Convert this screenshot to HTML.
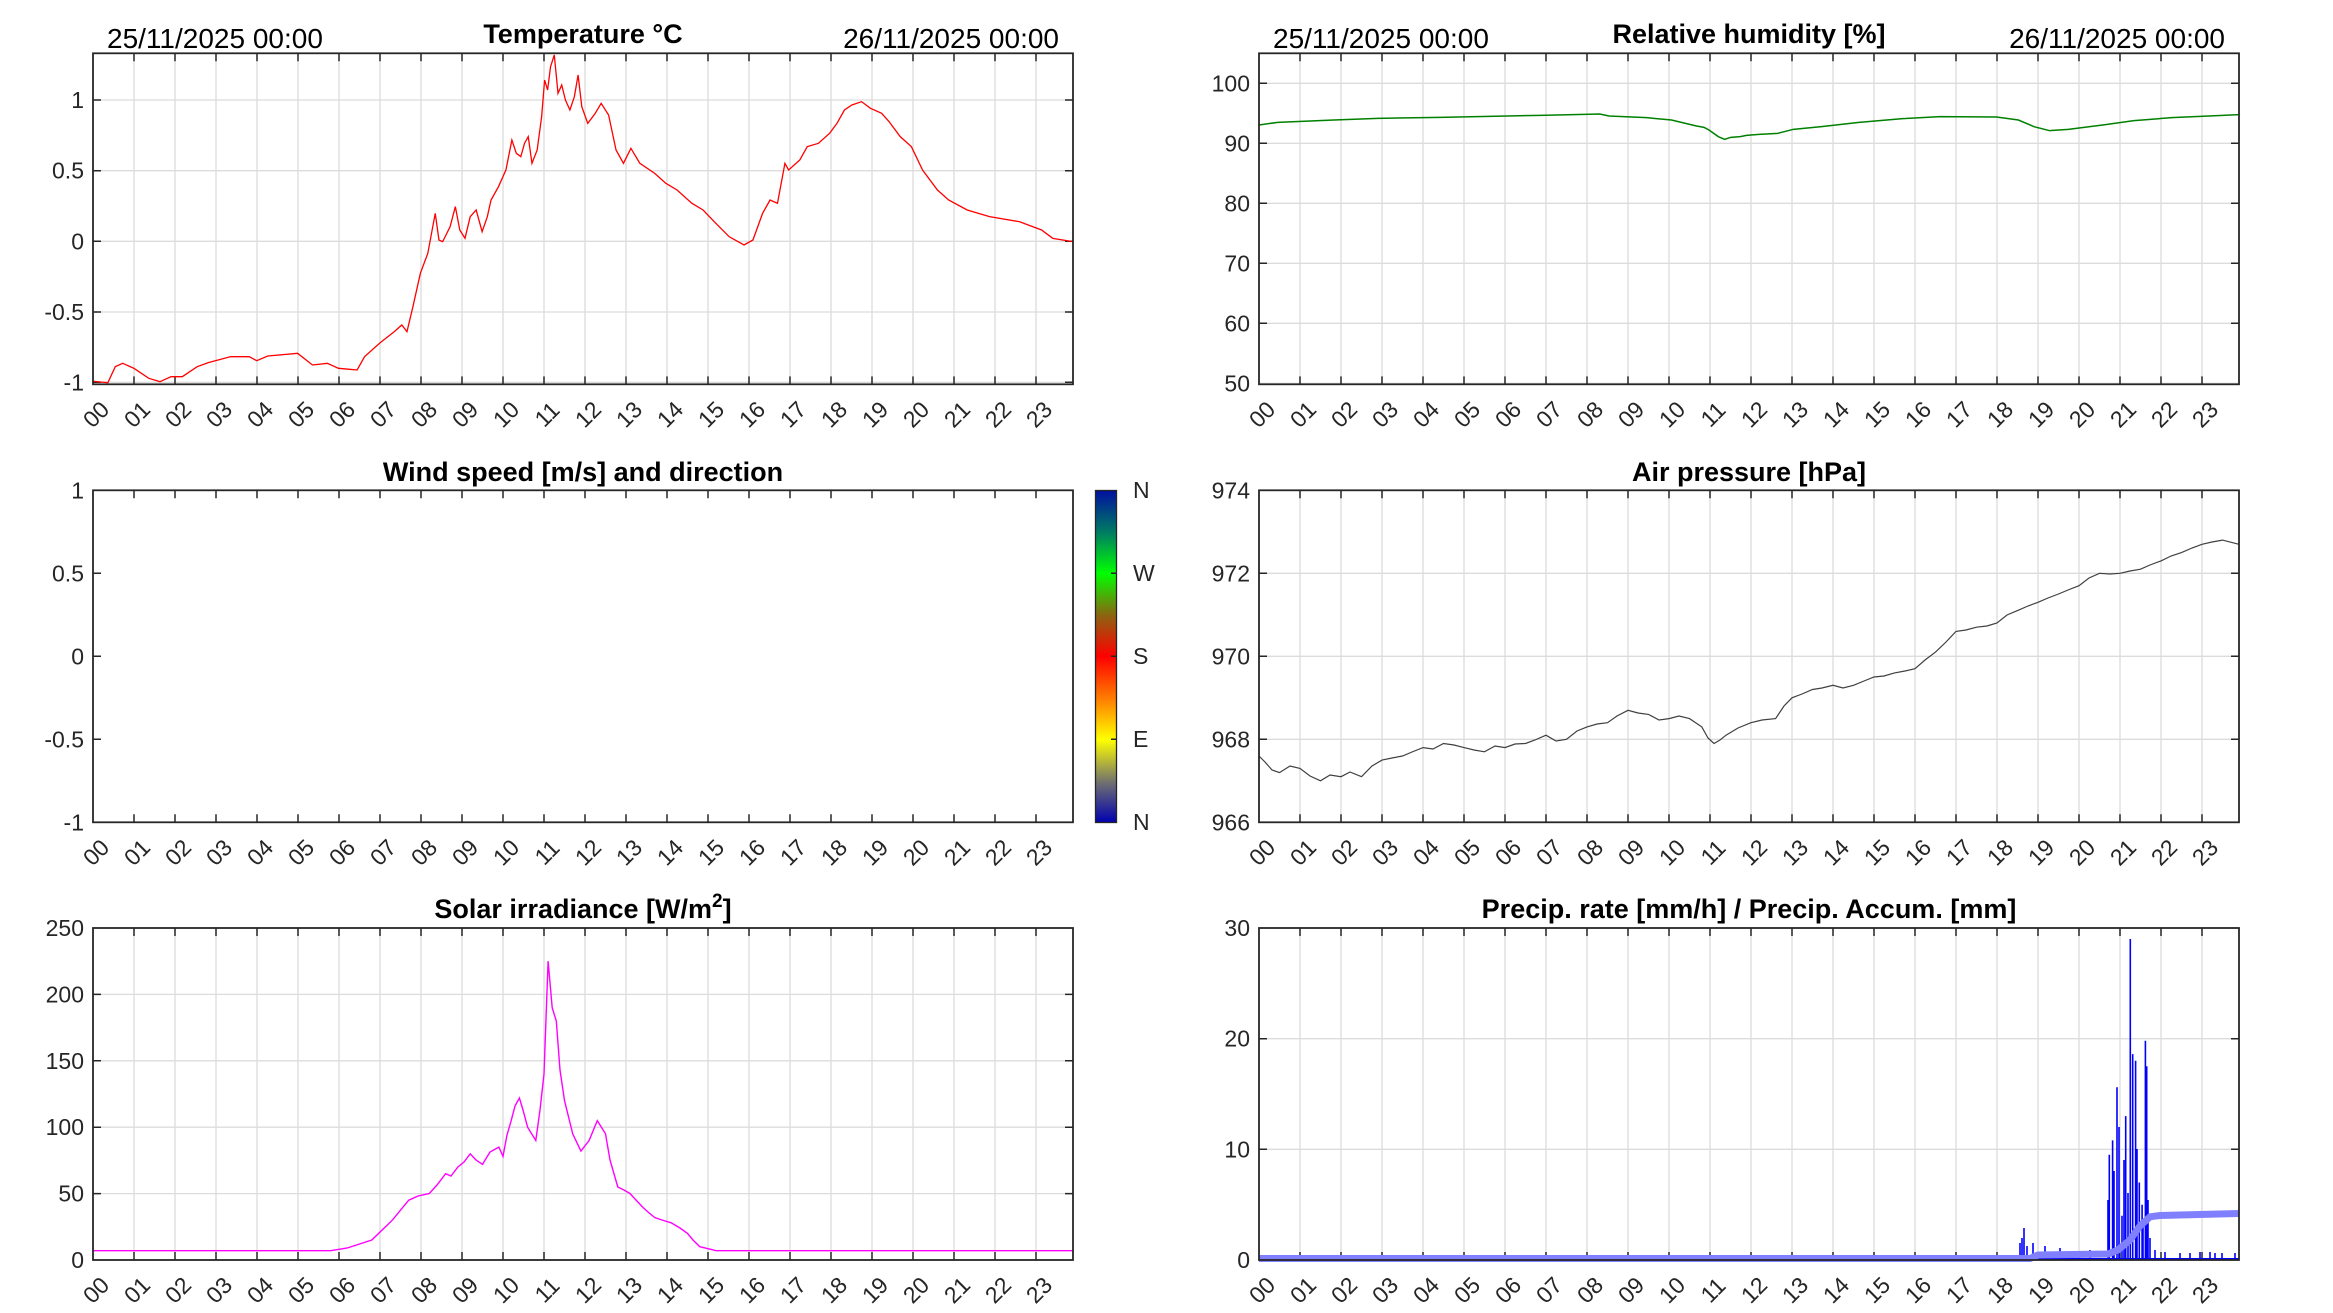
<!DOCTYPE html>
<html><head><meta charset="utf-8"><style>
html,body{margin:0;padding:0;background:#fff;}
svg{display:block;font-family:"Liberation Sans",Arial,sans-serif;}
.tl{font-size:23px;fill:#262626;}
.yl{font-size:23px;fill:#262626;text-anchor:end;dominant-baseline:central;}
.xl text{font-size:23px;fill:#262626;text-anchor:middle;dominant-baseline:central;}
.ti{font-size:27px;font-weight:bold;fill:#000;text-anchor:middle;}
.dt{font-size:28px;fill:#000;}
.grid{stroke:#dcdcdc;stroke-width:1.3;fill:none;}
.tk{stroke:#262626;stroke-width:1.5;fill:none;}
.ax{stroke:#262626;stroke-width:1.8;fill:none;}
</style></head><body>
<svg width="2333" height="1313" viewBox="0 0 2333 1313" xmlns="http://www.w3.org/2000/svg">
<defs>
<path id="vg" d="M41 0V332M82 0V332M123 0V332M164 0V332M205 0V332M246 0V332M287 0V332M328 0V332M369 0V332M410 0V332M451 0V332M492 0V332M533 0V332M574 0V332M615 0V332M656 0V332M697 0V332M738 0V332M779 0V332M820 0V332M861 0V332M902 0V332M943 0V332"/>
<path id="vt" d="M41 0v8M82 0v8M123 0v8M164 0v8M205 0v8M246 0v8M287 0v8M328 0v8M369 0v8M410 0v8M451 0v8M492 0v8M533 0v8M574 0v8M615 0v8M656 0v8M697 0v8M738 0v8M779 0v8M820 0v8M861 0v8M902 0v8M943 0v8M41 332v-8M82 332v-8M123 332v-8M164 332v-8M205 332v-8M246 332v-8M287 332v-8M328 332v-8M369 332v-8M410 332v-8M451 332v-8M492 332v-8M533 332v-8M574 332v-8M615 332v-8M656 332v-8M697 332v-8M738 332v-8M779 332v-8M820 332v-8M861 332v-8M902 332v-8M943 332v-8"/>
<linearGradient id="cb" x1="0" y1="1" x2="0" y2="0">
<stop offset="0" stop-color="#0000b0"/>
<stop offset="0.12" stop-color="#707070"/>
<stop offset="0.25" stop-color="#ffff00"/>
<stop offset="0.37" stop-color="#ff8000"/>
<stop offset="0.5" stop-color="#ff0000"/>
<stop offset="0.62" stop-color="#906010"/>
<stop offset="0.75" stop-color="#00ff00"/>
<stop offset="0.87" stop-color="#008060"/>
<stop offset="1" stop-color="#0010a0"/>
</linearGradient>
</defs>

<!-- ========== Temperature ========== -->
<g transform="translate(93,53.3)">
<use href="#vg" class="grid" transform="scale(1,0.997)"/>
<path class="grid" d="M0 46.7H980M0 117.4H980M0 188H980M0 258.7H980M0 329H980"/>
<use href="#vt" class="tk" transform="scale(1,0.997)"/>
<path class="tk" d="M0 46.7h8M0 117.4h8M0 188h8M0 258.7h8M0 329h8M980 46.7h-8M980 117.4h-8M980 188h-8M980 258.7h-8M980 329h-8"/>
</g>
<path transform="scale(0.744,0.33333)" vector-effect="non-scaling-stroke" fill="none" stroke="#ff0000" stroke-width="1.3" d="M125 1144L135 1146L145 1148L155 1100L165 1090L180 1105L200 1135L215 1145L230 1130L245 1130L265 1100L280 1088L310 1070L335 1070L345 1082L360 1068L400 1060L420 1095L440 1090L455 1105L470 1108L480 1110L490 1070L510 1030L530 995L540 975L547 995L555 920L565 820L575 760L585 640L590 720L595 725L605 680L612 620L618 690L625 715L632 650L640 630L648 695L655 650L660 600L670 560L680 510L688 420L694 460L700 470L705 430L710 410L715 490L722 450L728 350L732 240L736 270L740 200L745 165L750 280L755 255L760 300L766 330L772 290L777 225L782 320L790 370L800 340L808 310L818 345L828 450L838 490L848 445L860 490L880 520L895 550L910 570L930 610L945 630L960 665L980 710L1000 735L1012 720L1025 640L1035 600L1045 610L1055 490L1060 510L1075 480L1085 440L1100 430L1115 400L1125 370L1135 330L1145 315L1158 305L1170 325L1185 340L1195 365L1210 410L1225 440L1240 510L1260 570L1275 600L1300 630L1330 650L1370 665L1400 690L1415 715L1442 725"/>
<rect class="ax" x="93" y="53.3" width="980" height="331"/>
<text class="yl" x="84" y="100">1</text>
<text class="yl" x="84" y="170.7">0.5</text>
<text class="yl" x="84" y="241.3">0</text>
<text class="yl" x="84" y="312">-0.5</text>
<text class="yl" x="84" y="382.3">-1</text>
<text class="ti" x="583" y="43">Temperature °C</text>
<text class="dt" x="107" y="48">25/11/2025 00:00</text>
<text class="dt" x="1059" y="48" text-anchor="end">26/11/2025 00:00</text>
<g class="xl" transform="translate(93,384.3)">
<text transform="translate(3,30)rotate(-45)">00</text><text transform="translate(44,30)rotate(-45)">01</text><text transform="translate(85,30)rotate(-45)">02</text><text transform="translate(126,30)rotate(-45)">03</text><text transform="translate(167,30)rotate(-45)">04</text><text transform="translate(208,30)rotate(-45)">05</text><text transform="translate(249,30)rotate(-45)">06</text><text transform="translate(290,30)rotate(-45)">07</text><text transform="translate(331,30)rotate(-45)">08</text><text transform="translate(372,30)rotate(-45)">09</text><text transform="translate(413,30)rotate(-45)">10</text><text transform="translate(454,30)rotate(-45)">11</text><text transform="translate(495,30)rotate(-45)">12</text><text transform="translate(536,30)rotate(-45)">13</text><text transform="translate(577,30)rotate(-45)">14</text><text transform="translate(618,30)rotate(-45)">15</text><text transform="translate(659,30)rotate(-45)">16</text><text transform="translate(700,30)rotate(-45)">17</text><text transform="translate(741,30)rotate(-45)">18</text><text transform="translate(782,30)rotate(-45)">19</text><text transform="translate(823,30)rotate(-45)">20</text><text transform="translate(864,30)rotate(-45)">21</text><text transform="translate(905,30)rotate(-45)">22</text><text transform="translate(946,30)rotate(-45)">23</text>
</g>

<!-- ========== Humidity ========== -->
<g transform="translate(1259,53.3)">
<use href="#vg" class="grid" transform="scale(1,0.997)"/>
<path class="grid" d="M0 30H980M0 90H980M0 150H980M0 210H980M0 270H980M0 330H980"/>
<use href="#vt" class="tk" transform="scale(1,0.997)"/>
<path class="tk" d="M0 30h8M0 90h8M0 150h8M0 210h8M0 270h8M980 30h-8M980 90h-8M980 150h-8M980 210h-8M980 270h-8"/>
</g>
<path transform="translate(1259,40) scale(0.625,0.33333)" vector-effect="non-scaling-stroke" fill="none" stroke="#008000" stroke-width="1.5" d="M0 255L30 247L120 240L190 235L290 232L450 226L520 223L545 222L560 228L620 233L660 240L700 258L712 262L720 270L735 290L745 298L755 292L770 290L780 286L800 283L830 280L855 268L900 260L960 247L1030 236L1090 230L1180 231L1215 240L1240 260L1265 272L1295 268L1350 255L1400 242L1460 233L1520 228L1568 224"/>
<rect class="ax" x="1259" y="53.3" width="980" height="331"/>
<text class="yl" x="1250" y="83.3">100</text>
<text class="yl" x="1250" y="143.3">90</text>
<text class="yl" x="1250" y="203.3">80</text>
<text class="yl" x="1250" y="263.3">70</text>
<text class="yl" x="1250" y="323.3">60</text>
<text class="yl" x="1250" y="383.3">50</text>
<text class="ti" x="1749" y="43">Relative humidity [%]</text>
<text class="dt" x="1273" y="48">25/11/2025 00:00</text>
<text class="dt" x="2225" y="48" text-anchor="end">26/11/2025 00:00</text>
<g class="xl" transform="translate(1259,384.3)">
<text transform="translate(3,30)rotate(-45)">00</text><text transform="translate(44,30)rotate(-45)">01</text><text transform="translate(85,30)rotate(-45)">02</text><text transform="translate(126,30)rotate(-45)">03</text><text transform="translate(167,30)rotate(-45)">04</text><text transform="translate(208,30)rotate(-45)">05</text><text transform="translate(249,30)rotate(-45)">06</text><text transform="translate(290,30)rotate(-45)">07</text><text transform="translate(331,30)rotate(-45)">08</text><text transform="translate(372,30)rotate(-45)">09</text><text transform="translate(413,30)rotate(-45)">10</text><text transform="translate(454,30)rotate(-45)">11</text><text transform="translate(495,30)rotate(-45)">12</text><text transform="translate(536,30)rotate(-45)">13</text><text transform="translate(577,30)rotate(-45)">14</text><text transform="translate(618,30)rotate(-45)">15</text><text transform="translate(659,30)rotate(-45)">16</text><text transform="translate(700,30)rotate(-45)">17</text><text transform="translate(741,30)rotate(-45)">18</text><text transform="translate(782,30)rotate(-45)">19</text><text transform="translate(823,30)rotate(-45)">20</text><text transform="translate(864,30)rotate(-45)">21</text><text transform="translate(905,30)rotate(-45)">22</text><text transform="translate(946,30)rotate(-45)">23</text>
</g>

<!-- ========== Wind ========== -->
<g transform="translate(93,490.3)">
<use href="#vt" class="tk"/>
<path class="tk" d="M0 83h8M0 166h8M0 249h8"/>
</g>
<rect class="ax" x="93" y="490.3" width="980" height="332"/>
<text class="yl" x="84" y="490.3">1</text>
<text class="yl" x="84" y="573.3">0.5</text>
<text class="yl" x="84" y="656.3">0</text>
<text class="yl" x="84" y="739.3">-0.5</text>
<text class="yl" x="84" y="822.3">-1</text>
<text class="ti" x="583" y="481">Wind speed [m/s] and direction</text>
<g class="xl" transform="translate(93,822.3)">
<text transform="translate(3,30)rotate(-45)">00</text><text transform="translate(44,30)rotate(-45)">01</text><text transform="translate(85,30)rotate(-45)">02</text><text transform="translate(126,30)rotate(-45)">03</text><text transform="translate(167,30)rotate(-45)">04</text><text transform="translate(208,30)rotate(-45)">05</text><text transform="translate(249,30)rotate(-45)">06</text><text transform="translate(290,30)rotate(-45)">07</text><text transform="translate(331,30)rotate(-45)">08</text><text transform="translate(372,30)rotate(-45)">09</text><text transform="translate(413,30)rotate(-45)">10</text><text transform="translate(454,30)rotate(-45)">11</text><text transform="translate(495,30)rotate(-45)">12</text><text transform="translate(536,30)rotate(-45)">13</text><text transform="translate(577,30)rotate(-45)">14</text><text transform="translate(618,30)rotate(-45)">15</text><text transform="translate(659,30)rotate(-45)">16</text><text transform="translate(700,30)rotate(-45)">17</text><text transform="translate(741,30)rotate(-45)">18</text><text transform="translate(782,30)rotate(-45)">19</text><text transform="translate(823,30)rotate(-45)">20</text><text transform="translate(864,30)rotate(-45)">21</text><text transform="translate(905,30)rotate(-45)">22</text><text transform="translate(946,30)rotate(-45)">23</text>
</g>
<!-- colorbar -->
<rect x="1095.5" y="490.5" width="21" height="332" fill="url(#cb)" stroke="#262626" stroke-width="1.3"/>
<path class="tk" d="M1116 573.3h-5M1116 656.3h-5M1116 739.3h-5"/>
<text class="tl" x="1133" y="498">N</text>
<text class="tl" x="1133" y="581">W</text>
<text class="tl" x="1133" y="664">S</text>
<text class="tl" x="1133" y="747">E</text>
<text class="tl" x="1133" y="830">N</text>

<!-- ========== Pressure ========== -->
<g transform="translate(1259,490.3)">
<use href="#vg" class="grid"/>
<path class="grid" d="M0 83H980M0 166H980M0 249H980"/>
<use href="#vt" class="tk"/>
<path class="tk" d="M0 83h8M0 166h8M0 249h8M980 83h-8M980 166h-8M980 249h-8"/>
</g>
<path fill="none" stroke="#404040" stroke-width="1.2" d="M1259 756L1265 762L1272 770L1279.5 772.6L1290 766L1300 768.4L1310 776L1320.5 780.8L1330 775L1341 776.7L1350 772L1361.5 776.7L1372 766L1382 760.1L1392 758L1402.5 756L1412 752L1423 747.6L1433 749L1443.5 743.5L1454 745L1464 747.6L1474 750L1484.5 751.8L1495 746L1505 747.6L1515 744L1525.5 743.5L1535 740L1546 735.2L1556 741L1566.5 739.3L1577 731L1587 726.9L1597 724L1607.5 722.7L1617 716L1628 710.3L1638 713L1648.5 714.4L1659 720L1669 718.6L1679 716L1689.5 718.6L1701.8 726.9L1708 738L1714 743.5L1720 740L1726 735.2L1738 728L1751 722.7L1762 720L1775.6 718.6L1784 706L1792 697.8L1802 694L1812.5 689.5L1822 688L1833 685.3L1843 688L1853.5 685.3L1864 681L1874 677L1884 676L1894.5 672.9L1905 671L1915 668.7L1925 660L1935.5 652.1L1946 642L1956 631.4L1966 630L1976.5 627.2L1987 626L1997 623L2007 615L2017.5 610.6L2028 606L2038 602.3L2048 598L2058.5 594L2068 590L2079 585.7L2089 578L2099.5 573.3L2110 574L2120 573.3L2130 571L2140.5 569.2L2150 565L2161 560.9L2171 556L2181.5 552.6L2192 548L2202 544.3L2212 542L2222.5 540.1L2239 544.3"/>
<rect class="ax" x="1259" y="490.3" width="980" height="332"/>
<text class="yl" x="1250" y="490.3">974</text>
<text class="yl" x="1250" y="573.3">972</text>
<text class="yl" x="1250" y="656.3">970</text>
<text class="yl" x="1250" y="739.3">968</text>
<text class="yl" x="1250" y="822.3">966</text>
<text class="ti" x="1749" y="481">Air pressure [hPa]</text>
<g class="xl" transform="translate(1259,822.3)">
<text transform="translate(3,30)rotate(-45)">00</text><text transform="translate(44,30)rotate(-45)">01</text><text transform="translate(85,30)rotate(-45)">02</text><text transform="translate(126,30)rotate(-45)">03</text><text transform="translate(167,30)rotate(-45)">04</text><text transform="translate(208,30)rotate(-45)">05</text><text transform="translate(249,30)rotate(-45)">06</text><text transform="translate(290,30)rotate(-45)">07</text><text transform="translate(331,30)rotate(-45)">08</text><text transform="translate(372,30)rotate(-45)">09</text><text transform="translate(413,30)rotate(-45)">10</text><text transform="translate(454,30)rotate(-45)">11</text><text transform="translate(495,30)rotate(-45)">12</text><text transform="translate(536,30)rotate(-45)">13</text><text transform="translate(577,30)rotate(-45)">14</text><text transform="translate(618,30)rotate(-45)">15</text><text transform="translate(659,30)rotate(-45)">16</text><text transform="translate(700,30)rotate(-45)">17</text><text transform="translate(741,30)rotate(-45)">18</text><text transform="translate(782,30)rotate(-45)">19</text><text transform="translate(823,30)rotate(-45)">20</text><text transform="translate(864,30)rotate(-45)">21</text><text transform="translate(905,30)rotate(-45)">22</text><text transform="translate(946,30)rotate(-45)">23</text>
</g>

<!-- ========== Solar ========== -->
<g transform="translate(93,928)">
<use href="#vg" class="grid"/>
<path class="grid" d="M0 66.4H980M0 132.8H980M0 199.2H980M0 265.6H980"/>
<use href="#vt" class="tk"/>
<path class="tk" d="M0 66.4h8M0 132.8h8M0 199.2h8M0 265.6h8M980 66.4h-8M980 132.8h-8M980 199.2h-8M980 265.6h-8"/>
</g>
<path fill="none" stroke="#ff00ff" stroke-width="1.4" d="M93 1250.7L330.8 1250.7L347.2 1248L371.8 1240L392.3 1220.2L408.7 1200.2L418 1196L429.2 1193.6L437 1185L445.6 1173.7L451 1176L457.9 1167L464 1162L470.2 1153.8L476 1160L482.5 1164.4L490 1152L498.9 1147.1L503 1156.4L507 1135L511.2 1120.6L515 1106L519.4 1098L523 1110L527.6 1127.2L535.8 1140.5L540 1110L544 1074.1L548.1 961.2L552.2 1007.7L556.3 1021L560 1070L564.5 1100.6L572.7 1133.8L580.9 1151.1L589.1 1140.5L597.3 1120.6L605.5 1133.8L610 1160L617.8 1187L624 1190L630.1 1193.6L636 1200L642.4 1206.9L648 1212L654.7 1217.5L662 1220L671.1 1222.8L680 1228L687.5 1233.4L693 1240L699.8 1246.7L716.2 1250.7L1073 1250.7"/>
<rect class="ax" x="93" y="928" width="980" height="332"/>
<text class="yl" x="84" y="928">250</text>
<text class="yl" x="84" y="994.4">200</text>
<text class="yl" x="84" y="1060.8">150</text>
<text class="yl" x="84" y="1127.2">100</text>
<text class="yl" x="84" y="1193.6">50</text>
<text class="yl" x="84" y="1260">0</text>
<text class="ti" x="583" y="918">Solar irradiance [W/m<tspan dy="-11" font-size="19">2</tspan><tspan dy="11">]</tspan></text>
<g class="xl" transform="translate(93,1260)">
<text transform="translate(3,30)rotate(-45)">00</text><text transform="translate(44,30)rotate(-45)">01</text><text transform="translate(85,30)rotate(-45)">02</text><text transform="translate(126,30)rotate(-45)">03</text><text transform="translate(167,30)rotate(-45)">04</text><text transform="translate(208,30)rotate(-45)">05</text><text transform="translate(249,30)rotate(-45)">06</text><text transform="translate(290,30)rotate(-45)">07</text><text transform="translate(331,30)rotate(-45)">08</text><text transform="translate(372,30)rotate(-45)">09</text><text transform="translate(413,30)rotate(-45)">10</text><text transform="translate(454,30)rotate(-45)">11</text><text transform="translate(495,30)rotate(-45)">12</text><text transform="translate(536,30)rotate(-45)">13</text><text transform="translate(577,30)rotate(-45)">14</text><text transform="translate(618,30)rotate(-45)">15</text><text transform="translate(659,30)rotate(-45)">16</text><text transform="translate(700,30)rotate(-45)">17</text><text transform="translate(741,30)rotate(-45)">18</text><text transform="translate(782,30)rotate(-45)">19</text><text transform="translate(823,30)rotate(-45)">20</text><text transform="translate(864,30)rotate(-45)">21</text><text transform="translate(905,30)rotate(-45)">22</text><text transform="translate(946,30)rotate(-45)">23</text>
</g>

<!-- ========== Precip ========== -->
<g transform="translate(1259,928)">
<use href="#vg" class="grid"/>
<path class="grid" d="M0 110.7H980M0 221.3H980"/>
<use href="#vt" class="tk"/>
<path class="tk" d="M0 110.7h8M0 221.3h8M980 110.7h-8M980 221.3h-8"/>
</g>
<path fill="none" stroke="#0000ff" stroke-width="1.6" d="M2020 1259V1243M2022 1259V1238M2024 1259V1228M2027 1259V1246M2033 1259V1243M2045 1259V1246M2060 1259V1248M2090 1259V1250M2108 1259V1200M2109.3 1259V1154.8M2112.6 1259V1140.4M2114 1259V1171M2117 1259V1087.3M2119 1259V1127M2122 1259V1215.7M2124 1259V1160M2125.7 1259V1116.1M2128 1259V1193M2130.3 1259V939M2132.7 1259V1054.1M2135.6 1259V1060.7M2137 1259V1149M2139.3 1259V1182.5M2142.1 1259V1204.7M2143 1259V1227M2145.4 1259V1040.8M2146.7 1259V1066.3M2148 1259V1200M2150 1259V1238M2155 1259V1250M2165 1259V1252M2180 1259V1253M2190 1259V1253M2200 1259V1252M2210 1259V1252M2215 1259V1253M2222 1259V1253M2235 1259V1253"/>
<path fill="none" stroke="#0000ff" stroke-width="2" d="M2018 1259H2239"/>
<path fill="none" stroke="#8080ff" stroke-width="7" d="M1259 1258.5L2030 1258.5L2038 1255L2108 1254L2118 1250L2130 1240L2140 1226L2150 1216.8L2160 1215.5L2239 1213.5"/>
<rect class="ax" x="1259" y="928" width="980" height="332"/>
<text class="yl" x="1250" y="928">30</text>
<text class="yl" x="1250" y="1038.7">20</text>
<text class="yl" x="1250" y="1149.3">10</text>
<text class="yl" x="1250" y="1260">0</text>
<text class="ti" x="1749" y="918">Precip. rate [mm/h] / Precip. Accum. [mm]</text>
<g class="xl" transform="translate(1259,1260)">
<text transform="translate(3,30)rotate(-45)">00</text><text transform="translate(44,30)rotate(-45)">01</text><text transform="translate(85,30)rotate(-45)">02</text><text transform="translate(126,30)rotate(-45)">03</text><text transform="translate(167,30)rotate(-45)">04</text><text transform="translate(208,30)rotate(-45)">05</text><text transform="translate(249,30)rotate(-45)">06</text><text transform="translate(290,30)rotate(-45)">07</text><text transform="translate(331,30)rotate(-45)">08</text><text transform="translate(372,30)rotate(-45)">09</text><text transform="translate(413,30)rotate(-45)">10</text><text transform="translate(454,30)rotate(-45)">11</text><text transform="translate(495,30)rotate(-45)">12</text><text transform="translate(536,30)rotate(-45)">13</text><text transform="translate(577,30)rotate(-45)">14</text><text transform="translate(618,30)rotate(-45)">15</text><text transform="translate(659,30)rotate(-45)">16</text><text transform="translate(700,30)rotate(-45)">17</text><text transform="translate(741,30)rotate(-45)">18</text><text transform="translate(782,30)rotate(-45)">19</text><text transform="translate(823,30)rotate(-45)">20</text><text transform="translate(864,30)rotate(-45)">21</text><text transform="translate(905,30)rotate(-45)">22</text><text transform="translate(946,30)rotate(-45)">23</text>
</g>
</svg>
</body></html>
